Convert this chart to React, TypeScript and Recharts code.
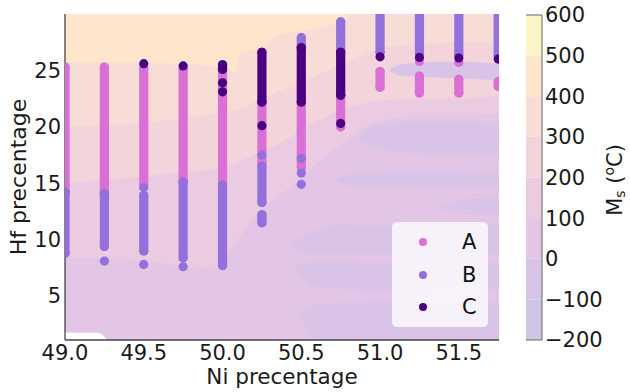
import React from 'react';
import { ComposedChart, Scatter, Area, XAxis, YAxis, Legend } from 'recharts';

const W = 630;
const H = 392;
const NI_MIN = 49.0;
const NI_MAX = 51.755;
const HF_MIN = 1.1;
const HF_MAX = 30.0;

const niTicks = [49.0, 49.5, 50.0, 50.5, 51.0, 51.5];
const hfTicks = [5, 10, 15, 20, 25];
const msLevels = [-200, -100, 0, 100, 200, 300, 400, 500, 600];
const msBandColors = ['#cec4e3', '#d9c4e7', '#e3c5e6', '#ebcbe1', '#f3d4db', '#f8dcd6', '#fde6cc', '#fdf4c8'];

const classNames = ['A', 'B', 'C'];
const classColors = ['#da70d6', '#9370db', '#4b0082'];

// strips of samples: [Ni, Hf low, Hf high]
const stripsA: [number, number, number][] = [
  [49.0, 14.2, 25.3], [49.25, 14.1, 25.3], [49.5, 14.8, 25.2], [49.75, 15.2, 25.1],
  [50.0, 15.0, 25.0], [50.25, 16.8, 22.2], [50.5, 16.4, 22.2], [50.75, 20.0, 22.8],
  [51.0, 23.5, 24.9], [51.25, 23.0, 24.5], [51.5, 23.0, 24.2], [51.75, 23.6, 24.0],
];
const dotsA: [number, number][] = [[51.5, 25.7], [51.25, 25.8]];
const stripsB: [number, number, number][] = [
  [49.0, 8.8, 14.2], [49.25, 9.4, 14.1], [49.5, 9.0, 13.9], [49.75, 8.4, 15.1],
  [50.0, 7.7, 14.8], [50.25, 13.3, 16.5], [50.25, 11.5, 12.2], [50.5, 27.0, 27.9],
  [50.75, 26.8, 29.3], [51.0, 26.6, 30.6], [51.25, 26.5, 30.6], [51.5, 26.4, 30.6],
  [51.75, 26.3, 30.6],
];
const dotsB: [number, number][] = [
  [49.25, 8.1], [49.5, 14.6], [49.5, 7.8], [49.75, 7.6], [50.25, 17.5],
  [50.5, 17.2], [50.5, 15.9], [50.5, 14.9],
];
const stripsC: [number, number, number][] = [
  [50.0, 25.1, 25.5], [50.25, 22.2, 26.6], [50.5, 22.2, 27.0], [50.75, 22.8, 26.6],
];
const dotsC: [number, number][] = [
  [49.5, 25.6], [49.75, 25.4], [50.0, 23.9], [50.0, 23.1], [50.25, 20.1],
  [50.75, 20.3], [51.0, 26.2], [51.25, 26.15], [51.5, 26.1], [51.75, 26.0],
];

// contour edges: Hf above which Ms exceeds the level
const ms100Edge: [number, number][] = [
  [49.0, 8.45], [49.25, 8.3], [49.5, 8.1], [49.75, 7.6], [49.95, 7.45], [50.02, 8.6],
  [50.11, 10.2], [50.25, 12.8], [50.36, 13.9], [50.5, 15.5], [50.62, 17.0], [50.75, 18.4],
  [50.87, 19.6], [51.0, 20.5], [51.25, 21.0], [51.5, 21.0], [51.755, 21.2],
];
const ms200Edge: [number, number][] = [
  [49.0, 15.0], [49.25, 15.3], [49.5, 15.6], [49.75, 16.0], [50.0, 16.4], [50.25, 17.8],
  [50.36, 18.5], [50.5, 19.7], [50.75, 21.5], [51.0, 22.3], [51.25, 22.5], [51.5, 22.5],
  [51.755, 22.8],
];
const ms300Edge: [number, number][] = [
  [49.0, 20.0], [49.25, 20.1], [49.5, 20.4], [49.75, 20.75], [50.0, 21.3], [50.11, 21.6],
  [50.25, 22.5], [50.5, 24.0], [50.75, 25.5], [51.0, 27.0], [51.25, 27.3], [51.5, 27.5],
  [51.755, 27.5],
];
const ms400Edge: [number, number][] = [
  [49.0, 25.7], [49.5, 25.65], [49.75, 25.6], [50.0, 25.2], [50.08, 24.8], [50.11, 26.5],
  [50.25, 27.0], [50.36, 28.2], [50.5, 28.5], [50.75, 29.3], [50.9, 30.6], [51.755, 30.6],
];
// patches below 0 degC: [Ni, Hf low, Hf high]
const coldPatches: [number, number, number][][] = [
  [[51.05, 25.0, 25.0], [51.15, 24.5, 25.6], [51.5, 24.3, 25.8], [51.755, 24.1, 25.6]],
  [[50.85, 19.0, 19.0], [51.0, 18.0, 20.2], [51.25, 17.6, 20.5], [51.5, 17.5, 20.5], [51.755, 17.4, 20.3]],
  [[50.7, 15.2, 15.2], [50.85, 14.7, 15.9], [51.3, 14.6, 16.0], [51.755, 14.5, 15.9]],
  [[51.35, 12.8, 12.8], [51.55, 12.3, 13.6], [51.755, 12.2, 13.8]],
  [[50.43, 9.5, 9.5], [50.55, 8.7, 10.6], [50.75, 8.7, 11.3], [51.2, 8.7, 11.2], [51.5, 8.7, 11.0], [51.755, 8.7, 11.4]],
  [[50.45, 7.5, 7.5], [50.6, 5.8, 8.1], [51.0, 5.5, 8.0], [51.5, 5.6, 8.0], [51.755, 5.5, 8.0]],
  [[50.48, 3.5, 3.5], [50.6, 1.1, 4.3], [51.0, 1.1, 4.5], [51.5, 1.1, 4.4], [51.755, 1.1, 4.5]],
];
const blankCorner: [number, number, number][] = [[49.0, 1.1, 1.75], [49.21, 1.1, 1.75], [49.27, 1.1, 1.1]];

const edgeToBand = (edge: [number, number][]) => edge.map(([x, y]) => ({ x, r: [y, HF_MAX + 1] }));
const rangeToBand = (pts: [number, number, number][]) => pts.map(([x, lo, hi]) => ({ x, r: [lo, hi] }));
const fullBand = [{ x: NI_MIN, r: [HF_MIN, HF_MAX] }, { x: NI_MAX, r: [HF_MIN, HF_MAX] }];
const colorbarBand = (lo: number, hi: number) => [{ c: 0, r: [lo, hi] }, { c: 1, r: [lo, hi] }];

const FONT = 'DejaVu Sans';

const Dot = (color: string) => (props: any) => {
  const { cx, cy } = props;
  if (cx == null || cy == null) return null;
  return <circle cx={cx} cy={cy} r={4.6} fill={color} />;
};

const LegendBox = (props: any) => {
  const payload = (props.payload || []).filter((p: any) => classNames.includes(p.value));
  return (
    <div style={{ width: 96, height: 105, background: 'rgba(255,255,255,0.78)', borderRadius: 5, position: 'relative', fontFamily: FONT }}>
      {payload.map((p: any, i: number) => (
        <div key={p.value} style={{ position: 'absolute', left: 0, top: 20 + i * 32.5 - 12, height: 24, width: 96 }}>
          <div style={{ position: 'absolute', left: 27, top: 8, width: 8, height: 8, borderRadius: 4, background: p.color }} />
          <div style={{ position: 'absolute', left: 70, top: 0, fontSize: 21, lineHeight: '24px', color: '#111' }}>{p.value}</div>
        </div>
      ))}
    </div>
  );
};

const fmtMs = (v: number) => (v < 0 ? '\u2212' + Math.abs(v) : String(v));

export default function App() {
  const bands: { data: any[]; color: string }[] = [
    { data: fullBand, color: msBandColors[2] },
    { data: edgeToBand(ms100Edge), color: msBandColors[3] },
    { data: edgeToBand(ms200Edge), color: msBandColors[4] },
    { data: edgeToBand(ms300Edge), color: msBandColors[5] },
    { data: edgeToBand(ms400Edge), color: msBandColors[6] },
    ...coldPatches.map((p) => ({ data: rangeToBand(p), color: msBandColors[1] })),
    { data: rangeToBand(blankCorner), color: '#ffffff' },
  ];
  const strips = [stripsA, stripsB, stripsC];
  const dots = [dotsA, dotsB, dotsC];
  const tickStyle = { fontSize: 21, fill: '#1a1a1a', fontFamily: FONT };
  const frame = { stroke: '#444', strokeWidth: 1.3 };

  return (
    <div style={{ position: 'absolute', left: 0, top: 0, width: W, height: H, background: '#fff' }}>
      <div style={{ position: 'absolute', left: 0, top: 0 }}>
        <ComposedChart width={W} height={H} margin={{ top: 14, right: 131, bottom: 0, left: 0 }}>
          {bands.map((b, i) => (
            <Area key={'band' + i} data={b.data} dataKey="r" type="monotone" stroke="none" fill={b.color} fillOpacity={1}
              isAnimationActive={false} dot={false} activeDot={false} legendType="none" />
          ))}
          {strips.map((list, ci) =>
            list.map((s, si) => (
              <Scatter key={'s' + ci + '-' + si} data={[{ x: s[0], y: s[1] }, { x: s[0], y: s[2] }]} fill={classColors[ci]}
                line={{ stroke: classColors[ci], strokeWidth: 9.2, strokeLinecap: 'round' }} shape={Dot(classColors[ci])}
                isAnimationActive={false} legendType="none" />
            ))
          )}
          {dots.map((list, ci) => (
            <Scatter key={'d' + ci} name={classNames[ci]} data={list.map(([x, y]) => ({ x, y }))} fill={classColors[ci]}
              shape={Dot(classColors[ci])} isAnimationActive={false} legendType="circle" />
          ))}
          <XAxis type="number" dataKey="x" domain={[NI_MIN, NI_MAX]} ticks={niTicks} allowDataOverflow
            tickFormatter={(v: number) => v.toFixed(1)} tick={tickStyle} tickLine={false} tickSize={0} tickMargin={5}
            height={52} axisLine={frame} />
          <YAxis type="number" dataKey="y" domain={[HF_MIN, HF_MAX]} ticks={hfTicks} allowDataOverflow
            tick={tickStyle} tickLine={false} tickSize={0} tickMargin={4} width={65} axisLine={frame} />
          <XAxis xAxisId="top" orientation="top" type="number" domain={[NI_MIN, NI_MAX]} height={0} tick={false} tickLine={false} axisLine={frame} />
          <YAxis yAxisId="right" orientation="right" type="number" domain={[HF_MIN, HF_MAX]} width={0} tick={false} tickLine={false} axisLine={frame} />
          <Legend layout="horizontal" verticalAlign="middle" align="center" content={<LegendBox />}
            wrapperStyle={{ position: 'absolute', left: 392, top: 222, width: 96, height: 105 }} />
        </ComposedChart>
      </div>
      <div style={{ position: 'absolute', left: 0, top: 0 }}>
        <ComposedChart width={W} height={H} margin={{ top: 15, right: 0, bottom: 52, left: 526 }}>
          {msBandColors.map((c, i) => (
            <Area key={'cb' + i} data={colorbarBand(msLevels[i], msLevels[i + 1])} dataKey="r" type="linear"
              stroke="none" fill={c} fillOpacity={1} isAnimationActive={false} dot={false} activeDot={false} legendType="none" />
          ))}
          <Area data={colorbarBand(-200, 600)} dataKey="r" type="linear" stroke="#666" strokeWidth={1} fill="none"
            isAnimationActive={false} dot={false} activeDot={false} legendType="none" />
          <XAxis type="number" dataKey="c" domain={[0, 1]} hide />
          <YAxis type="number" orientation="right" domain={[-200, 600]} ticks={msLevels} tickFormatter={fmtMs}
            tick={tickStyle} tickLine={false} tickSize={0} tickMargin={3} width={88} axisLine={{ stroke: '#666', strokeWidth: 1 }} />
          <YAxis yAxisId="cbLeft" orientation="left" type="number" domain={[-200, 600]} width={0} tick={false} tickLine={false}
            axisLine={{ stroke: '#666', strokeWidth: 1 }} />
        </ComposedChart>
      </div>
      <svg width={W} height={H} style={{ position: 'absolute', left: 0, top: 0, pointerEvents: 'none' }}>
        <text x={282} y={384} textAnchor="middle" fontSize={21.5} fontFamily={FONT} fill="#1a1a1a">Ni precentage</text>
        <text transform="translate(26,177) rotate(-90)" textAnchor="middle" fontSize={22} fontFamily={FONT} fill="#1a1a1a">Hf precentage</text>
        <text transform="translate(622,180) rotate(-90)" textAnchor="middle" fontSize={21} fontFamily={FONT} fill="#1a1a1a">
          M<tspan fontSize={14} dy={3}>s</tspan><tspan dy={-3}> (</tspan><tspan fontSize={14} dy={-8}>o</tspan><tspan dy={8}>C)</tspan>
        </text>
      </svg>
    </div>
  );
}
